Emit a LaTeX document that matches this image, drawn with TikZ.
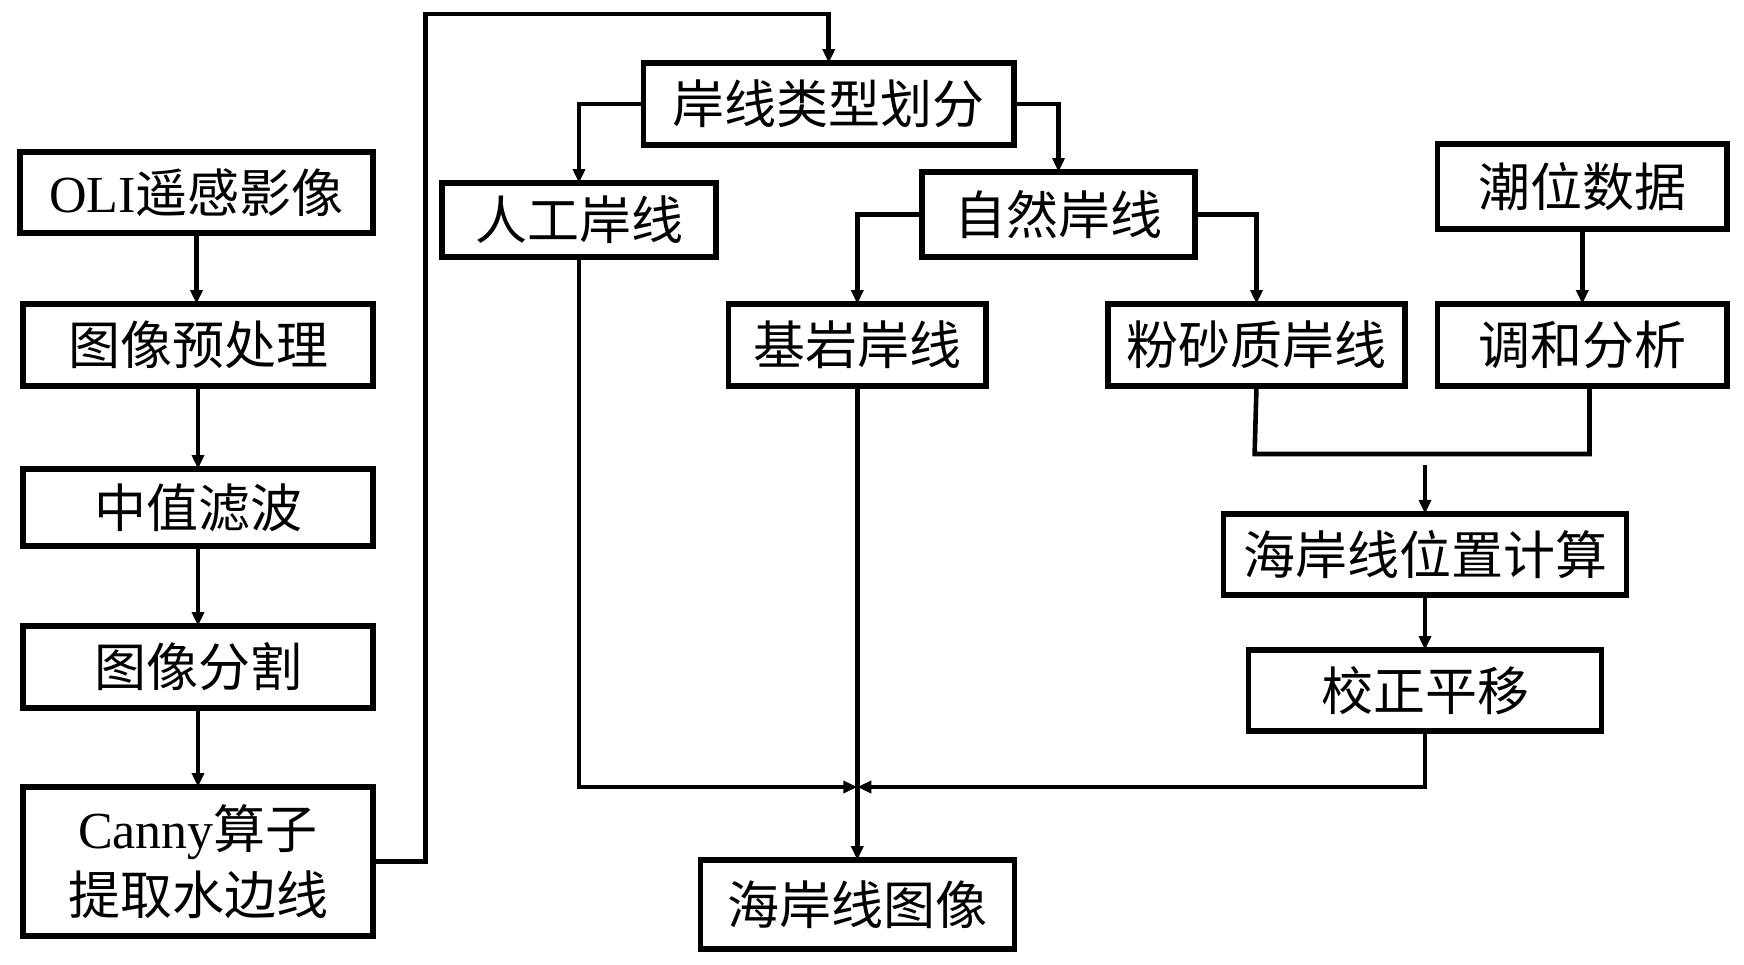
\documentclass[tikz,border=0pt]{standalone}
\usepackage{fontspec}
\setmainfont{Liberation Serif}
\newfontfamily\cjk{Noto Sans CJK SC}
\usetikzlibrary{arrows.meta}
\begin{document}
\begin{tikzpicture}[x=0.5pt,y=-0.5pt,
  box/.style={draw, line width=2.8pt, inner sep=0pt, outer sep=0pt, align=center,
    font=\cjk\fontsize{26pt}{33pt}\selectfont},
  bsz/.style 2 args={minimum width=#1*0.5pt, minimum height=#2*0.5pt},
  wire/.style={line width=2.3pt},
  conn/.style={wire, -{Triangle[length=7pt,width=6pt]}}]
\fill[white] (0,0) rectangle (1744,964);
\useasboundingbox (0,0) rectangle (1744,964);
% left column
\node[box,bsz={353}{81}] (oli) at (196.5,192.5) {{\rmfamily OLI}遥感影像};
\node[box,bsz={350}{82}] (pre) at (198,345) {图像预处理};
\node[box,bsz={350}{77}] (med) at (198,507.5) {中值滤波};
\node[box,bsz={350}{82}] (seg) at (198,667) {图像分割};
\node[box,bsz={350}{149}] (canny) at (198,861.5) {{\rmfamily Canny}算子\\提取水边线};
% middle / right
\node[box,bsz={370.5}{82}] (type) at (828.75,104) {岸线类型划分};
\node[box,bsz={274}{74}] (art) at (579,220) {人工岸线};
\node[box,bsz={273}{85}] (nat) at (1058.5,214.5) {自然岸线};
\node[box,bsz={257.4}{82}] (rock) at (857.3,345) {基岩岸线};
\node[box,bsz={297}{82}] (silt) at (1256.5,345) {粉砂质岸线};
\node[box,bsz={289.4}{85}] (tide) at (1582.3,186.5) {潮位数据};
\node[box,bsz={289.4}{82}] (harm) at (1582.3,345) {调和分析};
\node[box,bsz={403}{81}] (pos) at (1425,554.3) {海岸线位置计算};
\node[box,bsz={353}{81}] (corr) at (1425,690.5) {校正平移};
\node[box,bsz={314}{89}] (coast) at (857.3,904.5) {海岸线图像};
% helper coordinates
\coordinate (fbA) at (425.5,861.5);
\coordinate (fbB) at (425.5,14);
\coordinate (mg) at (1254.6,454);
\coordinate (mh) at (1589.5,454);
\coordinate (ms) at (1425,465);
\coordinate (jn) at (857.3,787);
% left column arrows
\draw[conn] (oli.south) -- (oli.south |- pre.north);
\draw[conn] (pre.south) -- (med.north);
\draw[conn] (med.south) -- (seg.north);
\draw[conn] (seg.south) -- (canny.north);
% feedback to classification
\draw[conn] (canny.east) -- (fbA) -- (fbB) -- (fbB -| type.north) -- (type.north);
% classification tree
\draw[conn] (type.west) -| (art.north);
\draw[conn] (type.east) -| (nat.north);
\draw[conn] (nat.west) -| (rock.north);
\draw[conn] (nat.east) -| (silt.north);
\draw[conn] (tide.south) -- (harm.north);
% merge silt + harmonic
\draw[wire] (silt.south) -- (mg) -- (mh) -- (mh |- harm.south);
\draw[conn] (ms) -- (pos.north);
\draw[conn] (pos.south) -- (corr.north);
% to coastline image
\draw[conn] (corr.south) |- (jn);
\draw[conn] (art.south) |- (jn);
\draw[conn] (rock.south) -- (coast.north);
\end{tikzpicture}
\end{document}
